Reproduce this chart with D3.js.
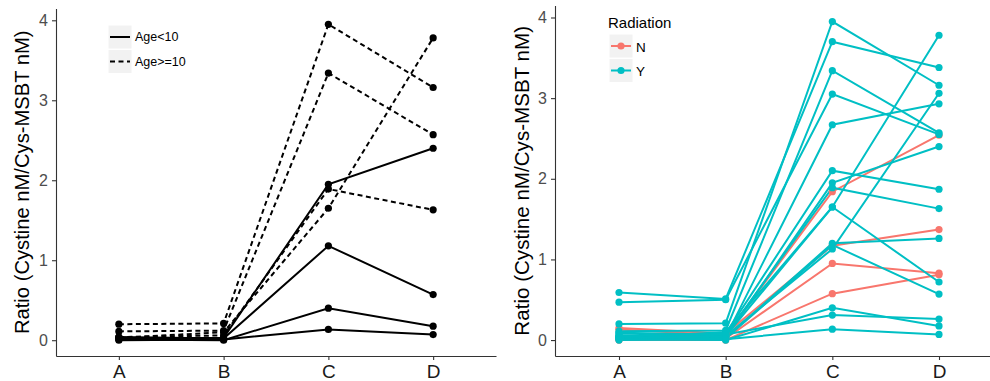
<!DOCTYPE html>
<html>
<head>
<meta charset="utf-8">
<script src="https://cdn.jsdelivr.net/npm/d3@7"></script>
<style>
  body { margin: 0; background: #fff; }
  svg { display: block; font-family: "Liberation Sans", Arial, Helvetica, sans-serif; }
</style>
</head>
<body>
<svg id="chart" width="990" height="381"></svg>
<script>
// Time points on the x axis and y-axis ticks
const timepoints = ["A", "B", "C", "D"];
const yTicks = [0, 1, 2, 3, 4];

// Cystine ratio per patient at each time point
const ratioA = [0.20, 0.59, 0.11, 0.47, 0.05, 0.03, 0.02, 0.13, 0.04, 0.03, 0.08, 0.06, 0.15, 0.04, 0.02, 0.01, 0.00, 0.01, 0.09, 0.00];
const ratioB = [0.21, 0.51, 0.12, 0.50, 0.04, 0.08, 0.03, 0.06, 0.06, 0.10, 0.05, 0.03, 0.08, 0.02, 0.05, 0.02, 0.00, 0.00, 0.07, 0.01];
const ratioC = [3.95, 3.70, 3.34, 3.05, 2.67, 2.10, 1.95, 1.84, 1.89, 1.65, 1.65, 1.20, 1.17, 1.18, 1.13, 0.95, 0.575, 0.40, 0.31, 0.135];
const ratioD = [3.16, 3.38, 2.57, 2.55, 2.93, 1.87, 2.40, 2.54, 1.63, 3.78, 0.72, 1.26, 1.37, 0.57, 3.06, 0.83, 0.81, 0.175, 0.26, 0.07];

// Patient groupings
const radiation = ["Y", "Y", "Y", "Y", "Y", "Y", "Y", "N", "Y", "Y", "Y", "Y", "N", "Y", "Y", "N", "N", "Y", "Y", "Y"];
const ageGroup  = ["Age>=10", "", "Age>=10", "", "", "", "Age<10", "", "Age>=10", "Age>=10", "", "", "", "Age<10", "", "", "", "Age<10", "", "Age<10"];

const ageLevels = ["Age<10", "Age>=10"];
const radiationLevels = ["N", "Y"];
const radiationColors = ["#F8766D", "#00BFC4"];

const patients = ratioA.map((_, i) => ({
  values: [ratioA[i], ratioB[i], ratioC[i], ratioD[i]],
  radiation: radiation[i],
  age: ageGroup[i]
}));

const svg = d3.select("#chart");
const fontFamily = '"Liberation Sans", Arial, Helvetica, sans-serif';

function drawPanel(opts) {
  const { data, x0, x1, yTop, yBottom, titleX, titleSize } = opts;
  const g = svg.append("g");

  const x = d3.scalePoint().domain(timepoints).range([x0, x1]).padding(0.6);
  const allVals = data.flatMap(d => d.values);
  const [lo, hi] = d3.extent(allVals);
  const pad = (hi - lo) * 0.05;
  const y = d3.scaleLinear().domain([lo - pad, hi + pad]).range([yBottom, yTop]);

  // axes
  const yAxis = g.append("g")
    .attr("transform", `translate(${x0},0)`)
    .call(d3.axisLeft(y).tickValues(yTicks).tickFormat(d3.format("d"))
      .tickSize(4).tickSizeOuter(0).tickPadding(4));
  yAxis.selectAll("text").attr("font-size", 16).attr("fill", "#4d4d4d").attr("font-family", fontFamily);

  const xAxis = g.append("g")
    .attr("transform", `translate(0,${yBottom})`)
    .call(d3.axisBottom(x).tickSize(4).tickSizeOuter(0).tickPadding(5));
  xAxis.selectAll("text").attr("font-size", 19).attr("fill", "#1a1a1a").attr("font-family", fontFamily);

  [yAxis, xAxis].forEach(a => {
    a.select(".domain").attr("stroke", "#333").attr("stroke-width", 1.1);
    a.selectAll(".tick line").attr("stroke", "#333").attr("stroke-width", 1.1);
  });

  // y-axis title
  g.append("text")
    .attr("transform", `translate(${titleX},${(yTop + yBottom) / 2}) rotate(-90)`)
    .attr("text-anchor", "middle")
    .attr("dominant-baseline", "central")
    .attr("font-size", titleSize)
    .attr("fill", "#000")
    .text("Ratio (Cystine nM/Cys-MSBT nM)");

  const line = d3.line().x((v, i) => x(timepoints[i])).y(v => y(v));
  return { g, x, y, line };
}

// ---------- Left panel: line type by age group ----------
const leftData = patients.filter(p => p.age !== "");
const left = drawPanel({
  data: leftData,
  x0: 56, x1: 496, yTop: 8.5, yBottom: 356, titleX: 22, titleSize: 20.2
});
const dashFor = a => (a === "Age>=10" ? "5,3.5" : null);

left.g.append("g").selectAll("path")
  .data(leftData)
  .join("path")
  .attr("d", d => left.line(d.values))
  .attr("fill", "none")
  .attr("stroke", "#000")
  .attr("stroke-width", 2)
  .attr("stroke-dasharray", d => dashFor(d.age));

left.g.append("g").selectAll("circle")
  .data(leftData.flatMap(d => d.values.map((v, i) => ({ t: timepoints[i], v }))))
  .join("circle")
  .attr("cx", d => left.x(d.t))
  .attr("cy", d => left.y(d.v))
  .attr("r", 3.6)
  .attr("fill", "#000");

// legend (no title)
const lgL = left.g.append("g");
ageLevels.forEach((lvl, i) => {
  const top = 25 + i * 24.5;
  lgL.append("rect").attr("x", 108).attr("y", top).attr("width", 24).attr("height", 24)
    .attr("fill", "#f2f2f2").attr("stroke", "#fff").attr("stroke-width", 1);
  lgL.append("line").attr("x1", 110).attr("x2", 130).attr("y1", top + 12).attr("y2", top + 12)
    .attr("stroke", "#000").attr("stroke-width", 2).attr("stroke-dasharray", dashFor(lvl));
  lgL.append("text").attr("x", 135).attr("y", top + 12).attr("dominant-baseline", "central")
    .attr("font-size", 12.5).attr("fill", "#000").text(lvl);
});

// ---------- Right panel: colour by radiation ----------
const right = drawPanel({
  data: patients,
  x0: 555, x1: 1003, yTop: 5.6, yBottom: 356, titleX: 521, titleSize: 20.6
});
const colorScale = d3.scaleOrdinal().domain(radiationLevels).range(radiationColors);
const ordered = radiationLevels.flatMap(l => patients.filter(p => p.radiation === l));

right.g.append("g").selectAll("path")
  .data(ordered)
  .join("path")
  .attr("d", d => right.line(d.values))
  .attr("fill", "none")
  .attr("stroke", d => colorScale(d.radiation))
  .attr("stroke-width", 2);

right.g.append("g").selectAll("circle")
  .data(ordered.flatMap(d => d.values.map((v, i) => ({ t: timepoints[i], v, r: d.radiation }))))
  .join("circle")
  .attr("cx", d => right.x(d.t))
  .attr("cy", d => right.y(d.v))
  .attr("r", 3.6)
  .attr("fill", d => colorScale(d.r));

const lgR = right.g.append("g");
lgR.append("text").attr("x", 608).attr("y", 22).attr("dominant-baseline", "central")
  .attr("font-size", 15).attr("fill", "#000").text("Radiation");
radiationLevels.forEach((lvl, i) => {
  const top = 34 + i * 24.5;
  lgR.append("rect").attr("x", 609).attr("y", top).attr("width", 24).attr("height", 24)
    .attr("fill", "#f2f2f2").attr("stroke", "#fff").attr("stroke-width", 1);
  lgR.append("line").attr("x1", 611).attr("x2", 631).attr("y1", top + 12).attr("y2", top + 12)
    .attr("stroke", colorScale(lvl)).attr("stroke-width", 2);
  lgR.append("circle").attr("cx", 621).attr("cy", top + 12).attr("r", 3.6).attr("fill", colorScale(lvl));
  lgR.append("text").attr("x", 636).attr("y", top + 13).attr("dominant-baseline", "central")
    .attr("font-size", 13.5).attr("fill", "#000").text(lvl);
});
</script>
</body>
</html>
